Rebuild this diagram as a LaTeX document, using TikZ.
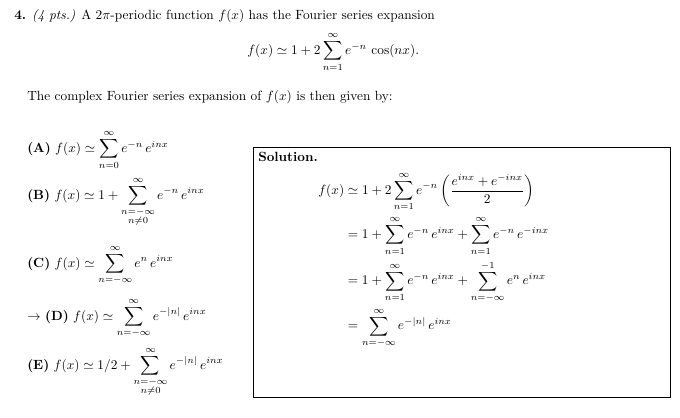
\documentclass[tikz,border=0pt]{standalone}
\usepackage{amsmath}
\begin{document}
\begin{tikzpicture}[x=0.75pt,y=-0.75pt,
  txt/.style={anchor=west,inner sep=0pt},
  solbox/.style={draw,line width=0.6pt}]
\useasboundingbox (0,0) rectangle (680,417);
\node[txt] (q) at (14,16) {\textbf{4.} \textit{(4 pts.)} A $2\pi$-periodic function $f(x)$ has the Fourier series expansion};
\node[txt] (eq) at (247,52) {$\displaystyle f(x)\simeq 1+2\sum_{n=1}^{\infty} e^{-n}\,\cos(nx).$};
\node[txt] (p) at (27,97) {The complex Fourier series expansion of $f(x)$ is then given by:};
\node[txt] (A) at (27,150) {\textbf{(A)} $\displaystyle f(x)\simeq\sum_{n=0}^{\infty} e^{-n}\,e^{inx}$};
\node[txt] (B) at (27,202) {\textbf{(B)} $\displaystyle f(x)\simeq 1+\sum_{\substack{n=-\infty\\ n\neq 0}}^{\infty} e^{-n}\,e^{inx}$};
\node[txt] (C) at (27,265) {\textbf{(C)} $\displaystyle f(x)\simeq\sum_{n=-\infty}^{\infty} e^{n}\,e^{inx}$};
\node[txt] (D) at (27,318) {$\rightarrow$ \textbf{(D)} $\displaystyle f(x)\simeq\sum_{n=-\infty}^{\infty} e^{-|n|}\,e^{inx}$};
\node[txt] (E) at (27,372) {\textbf{(E)} $\displaystyle f(x)\simeq 1/2+\sum_{\substack{n=-\infty\\ n\neq 0}}^{\infty} e^{-|n|}\,e^{inx}$};
\node[solbox,minimum width=417*0.75pt,minimum height=250*0.75pt,anchor=north west,inner sep=0pt] (box) at (253,147) {};
\node[txt] (sol) at (258,157) {\textbf{Solution.}};
\node[txt] (S) at (318,260) {$\displaystyle\begin{aligned}
f(x)&\simeq 1+2\sum_{n=1}^{\infty} e^{-n}\left(\frac{e^{inx}+e^{-inx}}{2}\right)\\
&=1+\sum_{n=1}^{\infty} e^{-n}\,e^{inx}+\sum_{n=1}^{\infty} e^{-n}\,e^{-inx}\\
&=1+\sum_{n=1}^{\infty} e^{-n}\,e^{inx}+\sum_{n=-\infty}^{-1} e^{n}\,e^{inx}\\
&=\sum_{n=-\infty}^{\infty} e^{-|n|}\,e^{inx}
\end{aligned}$};
\end{tikzpicture}
\end{document}
